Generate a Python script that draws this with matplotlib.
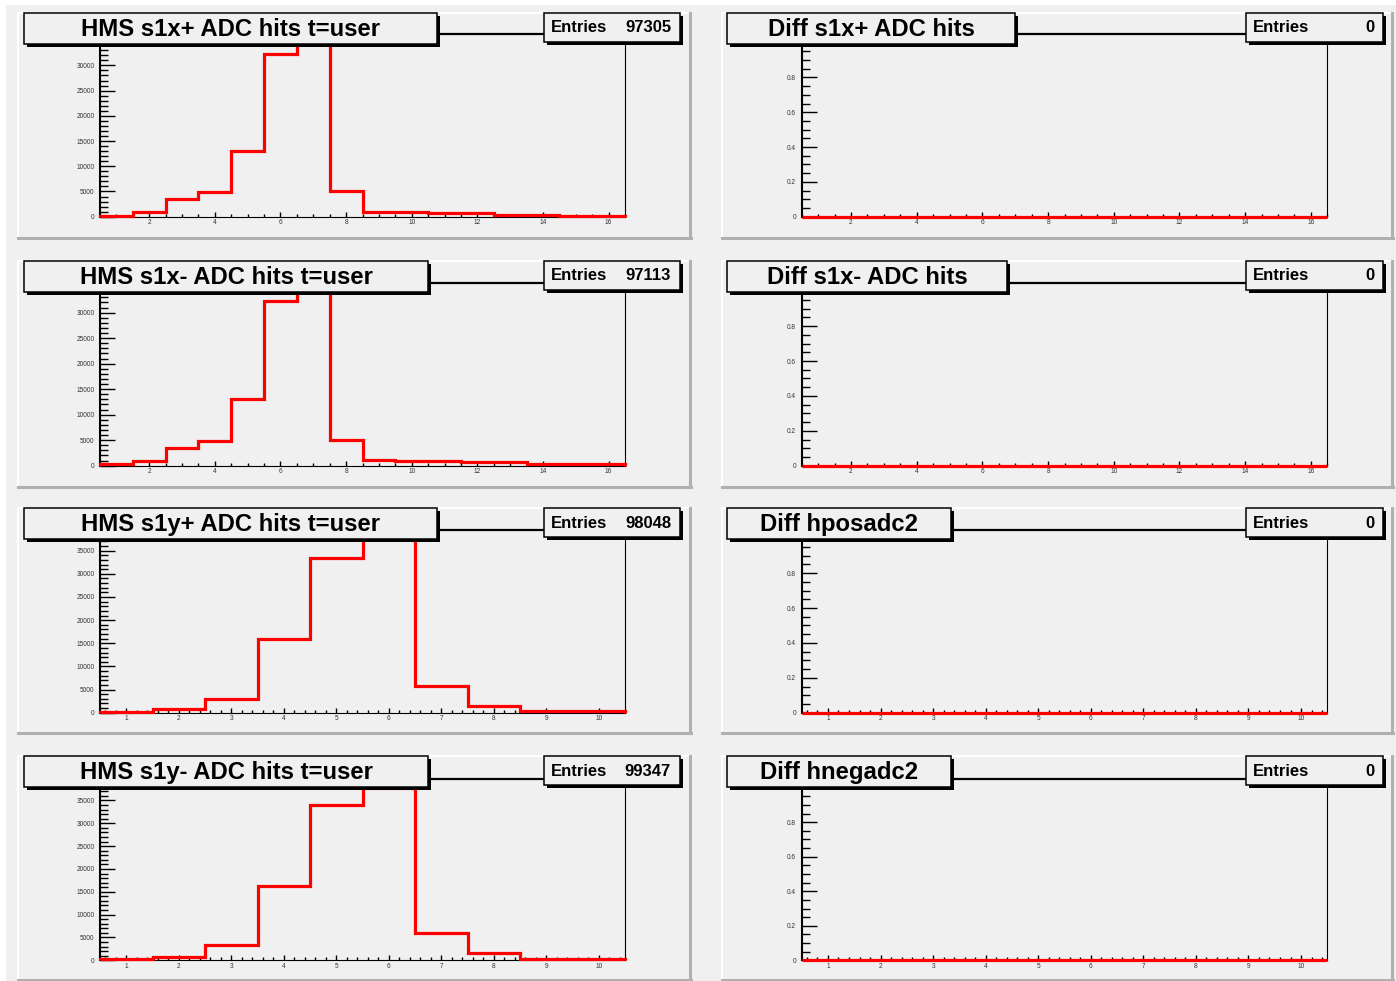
import numpy as np
import matplotlib
matplotlib.use("Agg")
import matplotlib.pyplot as plt
from matplotlib.patches import Rectangle
from matplotlib.ticker import MultipleLocator, FuncFormatter

W, H = 1396, 981

# ---------------- data ----------------
titles_left = ["HMS s1x+ ADC hits t=user", "HMS s1x- ADC hits t=user",
               "HMS s1y+ ADC hits t=user", "HMS s1y- ADC hits t=user"]
titles_right = ["Diff s1x+ ADC hits", "Diff s1x- ADC hits",
                "Diff hposadc2", "Diff hnegadc2"]
entries_left = ["97305", "97113", "98048", "99347"]
entries_right = ["0", "0", "0", "0"]

edges16 = np.arange(0.5, 16.6, 1.0)
edges10 = np.arange(0.5, 10.6, 1.0)

s1x_plus = [50, 925, 3480, 4800, 12930, 32280, 34500, 5060,
            980, 980, 660, 660, 330, 330, 50, 50]
s1x_minus = [390, 920, 3520, 4890, 13100, 32370, 34200, 4970,
             1170, 920, 920, 720, 720, 270, 270, 270]
s1y_plus = [220, 720, 2950, 15910, 33480, 37700, 5760, 1510, 430, 430]
s1y_minus = [280, 720, 3410, 16320, 33980, 37800, 5910, 1660, 330, 330]
diff_s1x_plus = [0] * 16
diff_s1x_minus = [0] * 16
diff_hposadc2 = [0] * 10
diff_hnegadc2 = [0] * 10

left_data = [(s1x_plus, edges16), (s1x_minus, edges16),
             (s1y_plus, edges10), (s1y_minus, edges10)]
right_data = [(diff_s1x_plus, edges16), (diff_s1x_minus, edges16),
              (diff_hposadc2, edges10), (diff_hnegadc2, edges10)]

# ---------------- layout (pixels) ----------------
pad_cols = [(18, 690), (722, 1392)]
pad_rows = [(13, 238), (261, 487), (508, 733), (756, 980)]
frame_cols = [(100, 625), (801.7, 1327.3)]
frame_rows = [(34, 216.7), (282.5, 465.7), (529.5, 712.7), (779, 960.3)]
title_right_edges = [[437, 428, 437, 428], [1015, 1007, 951, 951]]
stats_cols = [(544, 680), (1246, 1383)]

plt.rcParams['font.family'] = ['Liberation Sans', 'DejaVu Sans']

fig = plt.figure(figsize=(W / 100, H / 100), dpi=100)
fig.patch.set_facecolor('white')

bg = fig.add_axes([0, 0, 1, 1])
bg.set_xlim(0, W)
bg.set_ylim(H, 0)
bg.axis('off')
bg.set_zorder(0)
bg.add_patch(Rectangle((6, 5), W - 6, H - 5, facecolor='#f0f0f0', edgecolor='none'))

for (px0, px1) in pad_cols:
    for (py0, py1) in pad_rows:
        bg.add_patch(Rectangle((px0, py0), px1 - px0, py1 - py0,
                               facecolor='#f0f0f0', edgecolor='none'))
        bg.plot([px0, px1], [py0, py0], color='white', lw=1.5)
        bg.plot([px0, px0], [py0, py1], color='white', lw=1.5)
        bg.plot([px0, px1 + 1], [py1, py1], color='#b0b0b0', lw=2.2)
        bg.plot([px1, px1], [py0, py1], color='#b0b0b0', lw=2.2)

ov = fig.add_axes([0, 0, 1, 1])
ov.set_xlim(0, W)
ov.set_ylim(H, 0)
ov.axis('off')
ov.set_zorder(5)
ov.patch.set_visible(False)


def draw_box(x0, y0, x1, y1):
    ov.add_patch(Rectangle((x0 + 2.5, y0 + 2.5), x1 - x0, y1 - y0,
                           facecolor='black', edgecolor='none'))
    ov.add_patch(Rectangle((x0, y0), x1 - x0, y1 - y0,
                           facecolor='#f0f0f0', edgecolor='black', lw=1.1))


def make_fmt(limit):
    def f(v, p):
        if v > limit:
            return ""
        return f"{v:g}"
    return FuncFormatter(f)


for ci, (data, titles, entries) in enumerate([(left_data, titles_left, entries_left),
                                             (right_data, titles_right, entries_right)]):
    fx0, fx1 = frame_cols[ci]
    for ri in range(4):
        ft, fb = frame_rows[ri]
        vals, edges = data[ri]
        vals = np.asarray(vals, dtype=float)
        ax = fig.add_axes([fx0 / W, 1 - fb / H, (fx1 - fx0) / W, (fb - ft) / H])
        ax.set_zorder(1)
        ax.patch.set_visible(False)
        ax.stairs(vals, edges, color='#ff0000', lw=2.3, baseline=0,
                  clip_on=False, zorder=2.6)
        ax.set_xlim(edges[0], edges[-1])
        vmax = vals.max()
        is_diff = vmax <= 0
        ymax = 1.05 if is_diff else 1.05 * vmax
        ax.set_ylim(0, ymax)

        for s in ax.spines.values():
            s.set_linewidth(0.8)
            s.set_color('black')
        ax.spines['left'].set_linewidth(1.5)
        ax.spines['top'].set_linewidth(1.6)

        if is_diff:
            ax.yaxis.set_major_locator(MultipleLocator(0.2))
            ax.yaxis.set_minor_locator(MultipleLocator(0.05))
        else:
            ax.yaxis.set_major_locator(MultipleLocator(5000))
            ax.yaxis.set_minor_locator(MultipleLocator(1000))
        ax.yaxis.set_major_formatter(make_fmt(0.9 * ymax))

        nb = len(vals)
        if nb == 16:
            ax.xaxis.set_major_locator(MultipleLocator(2))
            ax.xaxis.set_minor_locator(MultipleLocator(0.5))
        else:
            ax.xaxis.set_major_locator(MultipleLocator(1))
            ax.xaxis.set_minor_locator(MultipleLocator(0.2))
        ax.xaxis.set_major_formatter(FuncFormatter(lambda v, p: f"{v:g}"))

        ax.tick_params(axis='both', which='both', direction='in', top=False,
                       right=False, color='black', labelsize=4.7,
                       labelcolor='#333333', width=1.0)
        ax.tick_params(axis='y', which='major', length=10.8, pad=4)
        ax.tick_params(axis='y', which='minor', length=6.0)
        ax.tick_params(axis='x', which='major', length=3.6, pad=2)
        ax.tick_params(axis='x', which='minor', length=2.2)

        # title box
        py0 = pad_rows[ri][0]
        tx0 = pad_cols[ci][0] + 6 if ci == 0 else pad_cols[ci][0] + 5
        tx1 = title_right_edges[ci][ri]
        draw_box(tx0, py0, tx1, py0 + 31)
        ov.text((tx0 + tx1) / 2, py0 + 16.5, titles[ri], ha='center', va='center',
                fontsize=17.2, fontweight='bold', color='black')

        # stats box
        sx0, sx1 = stats_cols[ci]
        draw_box(sx0, py0, sx1, py0 + 29)
        ov.text(sx0 + 7, py0 + 15, "Entries", ha='left', va='center',
                fontsize=12, fontweight='bold', color='black')
        ov.text(sx1 - 9, py0 + 15, entries[ri], ha='right', va='center',
                fontsize=12, fontweight='bold', color='black')

fig.savefig("out.png", dpi=100, facecolor=fig.get_facecolor())
